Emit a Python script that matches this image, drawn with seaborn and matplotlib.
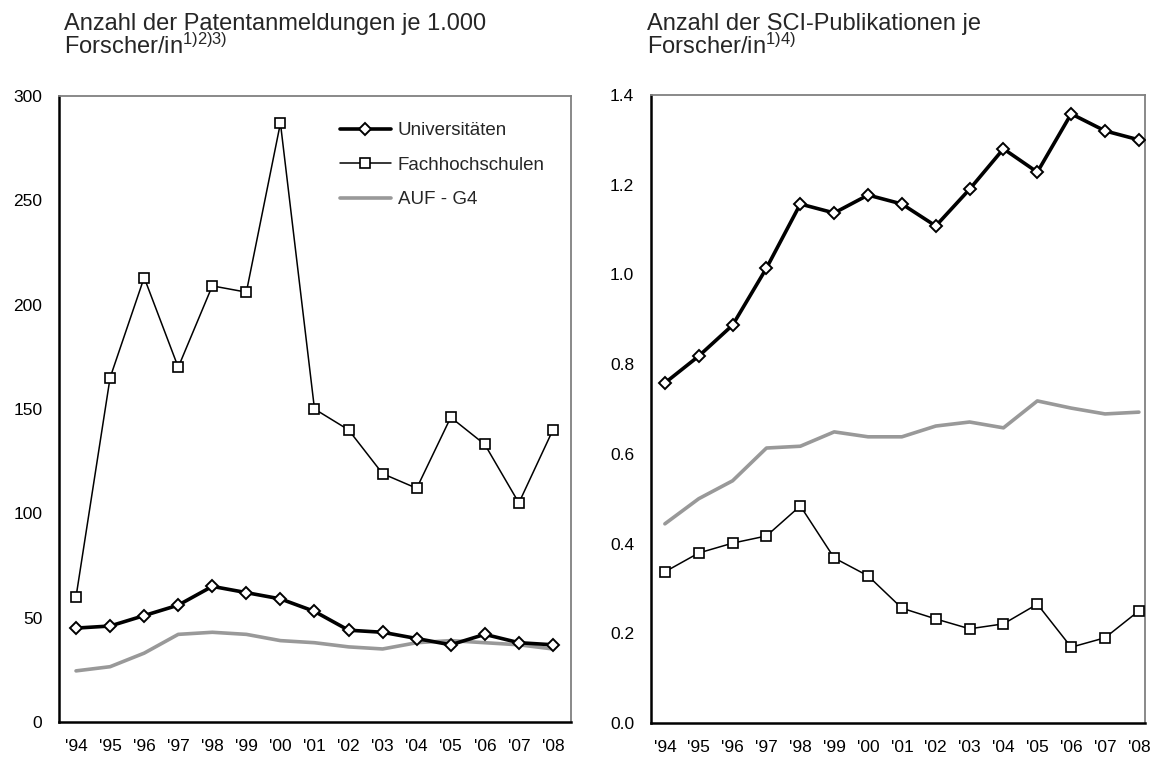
import matplotlib
matplotlib.use("Agg")
import matplotlib.pyplot as plt
import seaborn as sns
import pandas as pd

years = ["'94", "'95", "'96", "'97", "'98", "'99", "'00", "'01", "'02", "'03", "'04", "'05", "'06", "'07", "'08"]

# Patentanmeldungen je 1.000 Forscher/in
pat_uni = [45, 46, 51, 56, 65, 62, 59, 53, 44, 43, 40, 37, 42, 38, 37]
pat_fh = [60, 165, 213, 170, 209, 206, 287, 150, 140, 119, 112, 146, 133, 105, 140]
pat_auf = [24.5, 26.5, 33, 42, 43, 42, 39, 38, 36, 35, 38, 39, 38, 37, 35]

# SCI-Publikationen je Forscher/in
pub_uni = [0.758, 0.818, 0.887, 1.014, 1.157, 1.137, 1.177, 1.157, 1.108, 1.19, 1.28, 1.228, 1.358, 1.32, 1.30]
pub_fh = [0.337, 0.379, 0.401, 0.417, 0.484, 0.368, 0.328, 0.256, 0.232, 0.21, 0.221, 0.265, 0.169, 0.19, 0.25]
pub_auf = [0.444, 0.50, 0.54, 0.613, 0.617, 0.649, 0.638, 0.638, 0.662, 0.671, 0.658, 0.718, 0.702, 0.689, 0.693]

series_names = ["Universitäten", "Fachhochschulen", "AUF - G4"]
left_ticks = [0, 50, 100, 150, 200, 250, 300]
right_ticks = [0.0, 0.2, 0.4, 0.6, 0.8, 1.0, 1.2, 1.4]

sns.set_style("white")
plt.rcParams["font.family"] = ["Liberation Sans", "DejaVu Sans"]
plt.rcParams["mathtext.fontset"] = "custom"
plt.rcParams["mathtext.rm"] = "Liberation Sans"
plt.rcParams["mathtext.it"] = "Liberation Sans"

W, H = 1150, 758
fig = plt.figure(figsize=(W / 100, H / 100), dpi=100)

def px_axes(x0, x1, y0, y1):
    return fig.add_axes([x0 / W, 1 - y1 / H, (x1 - x0) / W, (y1 - y0) / H])

ax1 = px_axes(59, 571, 96, 722)
ax2 = px_axes(651, 1145, 95, 723)

styles = {
    "Universitäten": dict(color="black", lw=2.6, marker="D", markersize=6.5,
                          markerfacecolor="white", markeredgecolor="black", markeredgewidth=1.4, zorder=4),
    "Fachhochschulen": dict(color="black", lw=1.1, marker="s", markersize=7.5,
                            markerfacecolor="white", markeredgecolor="black", markeredgewidth=1.2, zorder=3),
    "AUF - G4": dict(color="#999999", lw=2.6, marker=None, zorder=2),
}

def draw(ax, vals):
    x = list(range(len(years)))
    for name, v in zip(series_names, vals):
        df = pd.DataFrame({"x": x, "y": v})
        sns.lineplot(data=df, x="x", y="y", ax=ax, label=name, **styles[name])
    ax.set_xticks(x)
    ax.set_xticklabels(years)
    ax.set_xlabel("")
    ax.set_ylabel("")
    for s in ["left", "bottom"]:
        ax.spines[s].set_color("black")
        ax.spines[s].set_linewidth(1.8)
    for s in ["top", "right"]:
        ax.spines[s].set_color("#808080")
        ax.spines[s].set_linewidth(1.3)
    ax.tick_params(axis="both", length=0, labelsize=12.5, colors="black")
    ax.tick_params(axis="y", pad=12)
    ax.tick_params(axis="x", pad=12)

draw(ax1, [pat_uni, pat_fh, pat_auf])
ax1.set_ylim(0, 300)
ax1.set_yticks(left_ticks)
ax1.set_yticklabels([str(t) for t in left_ticks])
ax1.set_xlim(-0.5, 14.53)

draw(ax2, [pub_uni, pub_fh, pub_auf])
ax2.set_ylim(0, 1.4)
ax2.set_yticks(right_ticks)
ax2.set_yticklabels([f"{t:.1f}" for t in right_ticks])
ax2.set_xlim(-0.41, 14.18)
ax2.get_legend().remove()

leg = ax1.legend(loc="upper left", bbox_to_anchor=(340 / W, 1 - 122 / H),
                 bbox_transform=fig.transFigure, frameon=False, borderpad=0, borderaxespad=0,
                 fontsize=13.5, handlelength=2.7, labelspacing=0.93, handletextpad=0.37)

fig.text(64 / W, 1 - 13 / H, "Anzahl der Patentanmeldungen je 1.000\n"
         r"Forscher/in$^{\mathregular{1)2)3)}}$", fontsize=17, va="top", ha="left",
         linespacing=0.92)
fig.text(647 / W, 1 - 13 / H, "Anzahl der SCI-Publikationen je\n"
         r"Forscher/in$^{\mathregular{1)4)}}$", fontsize=17, va="top", ha="left",
         linespacing=0.92)

fig.savefig("out.png", dpi=100)
